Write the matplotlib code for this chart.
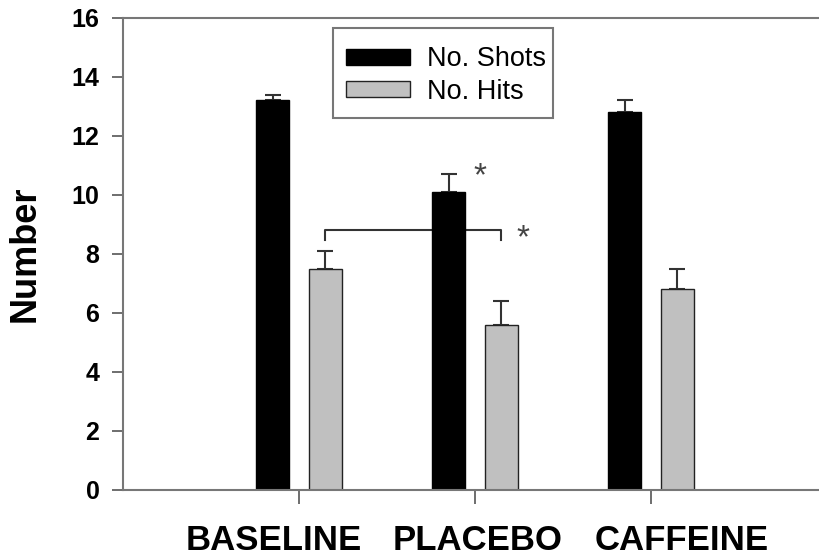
import matplotlib
matplotlib.use("Agg")
import matplotlib.pyplot as plt
from matplotlib.patches import Rectangle
import numpy as np

categories = ["BASELINE", "PLACEBO", "CAFFEINE"]
shots = [13.2, 10.1, 12.8]
shots_err = [0.2, 0.6, 0.4]
hits = [7.5, 5.6, 6.8]
hits_err = [0.6, 0.8, 0.7]
yticks = [0, 2, 4, 6, 8, 10, 12, 14, 16]

# horizontal shift of each category label relative to its tick (layout only)
label_shift = [-0.142, 0.017, 0.176]

plt.rcParams['font.family'] = ['Liberation Sans', 'DejaVu Sans']

fig = plt.figure(figsize=(8.2, 5.58), dpi=100)
ax = fig.add_axes([0.15, 0.122, 0.85, 0.846])

x = np.arange(1, len(categories) + 1)
w = 0.19
off = 0.15
ax.bar(x - off, shots, w, color='black', edgecolor='black', linewidth=1, label='No. Shots', zorder=2)
ax.bar(x + off, hits, w, color='#c0c0c0', edgecolor='#222222', linewidth=1, label='No. Hits', zorder=2)
ax.errorbar(x - off, shots, yerr=[np.zeros(3), shots_err], fmt='none', ecolor='#333333',
            elinewidth=1.5, capsize=6, capthick=1.5, zorder=1)
ax.errorbar(x + off, hits, yerr=[np.zeros(3), hits_err], fmt='none', ecolor='#333333',
            elinewidth=1.5, capsize=6, capthick=1.5, zorder=1)

# significance bracket between baseline hits and placebo hits
bx0, bx1 = x[0] + off, x[1] + off
ax.plot([bx0, bx0, bx1, bx1], [8.47, 8.8, 8.8, 8.47], color='#333333', lw=1.5, zorder=1)
ax.text(bx1 + 0.12, 8.5, '*', fontsize=24, ha='center', va='center', color='#444444')
ax.text(x[1] - off + 0.18, 10.62, '*', fontsize=24, ha='center', va='center', color='#444444')

ax.set_xlim(0, 3.96)
ax.set_ylim(0, 16)
ax.set_yticks(yticks)
ax.set_yticklabels([str(v) for v in yticks], fontsize=18, fontweight='bold')
ax.set_xticks(x)
ax.set_xticklabels([''] * len(categories))
for xi, name, sh in zip(x, categories, label_shift):
    ax.text(xi + sh, -0.108, name, transform=ax.get_xaxis_transform(),
            fontsize=25, fontweight='bold', ha='center', va='center')
ax.tick_params(axis='x', length=10, width=1.2, color='#555555')
ax.tick_params(axis='y', length=8, width=1.2, color='#555555', pad=9)
for s in ['left', 'bottom', 'top']:
    ax.spines[s].set_color('#777777')
    ax.spines[s].set_linewidth(1.5)
ax.spines['right'].set_visible(False)
ax.set_ylabel('Number', fontsize=26, fontweight='bold')
ax.yaxis.set_label_coords(-0.115, 0.5)

leg = ax.legend(loc='upper left', bbox_to_anchor=(0.2967, 0.974), borderaxespad=0, fontsize=19.5,
                frameon=False, handlelength=2.35, handleheight=0.55, handletextpad=0.65,
                borderpad=0.6, labelspacing=0.24)
# legend frame
ax.add_patch(Rectangle((0.3013, 0.788), 0.3156, 0.1907, transform=ax.transAxes,
                       fill=False, edgecolor='#777777', linewidth=1.5, zorder=5))

fig.savefig('out.png', dpi=100)
